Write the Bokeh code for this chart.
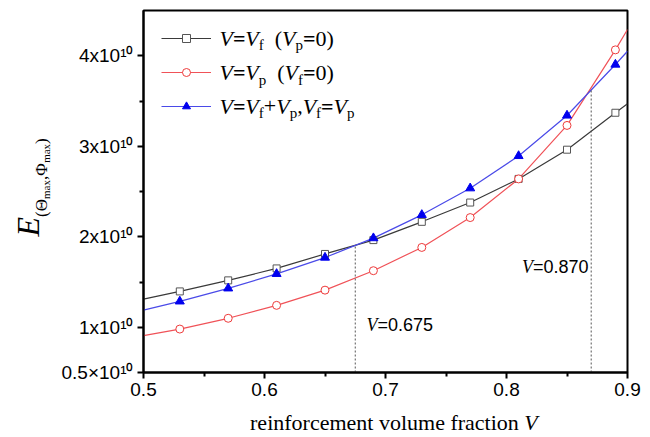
import math
from bokeh.plotting import figure
from bokeh.layouts import row, column
from bokeh.models import FixedTicker, Label, Legend, LegendItem, Range1d
from bokeh.embed import file_html
from bokeh.resources import INLINE

# ---------------- data (E in units of 1e10) ----------------
V_MARK = [0.53, 0.57, 0.61, 0.65, 0.69, 0.73, 0.77, 0.81, 0.85, 0.89]
E_VF = [1.396, 1.518, 1.65, 1.81, 1.963, 2.165, 2.378, 2.639, 2.962, 3.37]
E_VP = [0.98, 1.099, 1.242, 1.41, 1.625, 1.882, 2.212, 2.639, 3.23, 4.065]
E_VFP = [1.286, 1.43, 1.59, 1.77, 1.985, 2.242, 2.536, 2.893, 3.34, 3.903]
V_START, V_STOP = 0.5, 0.9
E_VF_END = [1.31, 3.47]
E_VP_END = [0.908, 4.29]
E_VFP_END = [1.19, 4.05]
V_CROSS = [0.675, 0.870]
E_CROSS = [1.905, 3.63]
CROSS_LABELS = ["=0.675", "=0.870"]
X_TICKS = [0.5, 0.6, 0.7, 0.8, 0.9]
X_MINOR = [0.55, 0.65, 0.75, 0.85]
Y_TICKS = [0.5, 1, 2, 3, 4]
Y_MINOR = [1.5, 2.5, 3.5]
Y_TICK_LABELS = ["0.5\u00d710\u00b9\u2070", "1x10\u00b9\u2070", "2x10\u00b9\u2070",
                 "3x10\u00b9\u2070", "4x10\u00b9\u2070"]
X_LABEL = "reinforcement volume fraction "

SERIF = "Liberation Serif"
SANS = "Liberation Sans"
BASE_FIX = 0.28   # observed downward offset of bokeh's alphabetic baseline (em)

# page-pixel geometry
WIDTH, HEIGHT = 646, 436
LEFT_W = 55            # strip holding the y title
MAIN_H = 408           # main figure height (x tick labels inside)
FL, FR, FT, FB = 143, 627, 10, 372
X0, X1, Y0, Y1 = 0.5, 0.9, 0.5, 4.5


def dx(px):
    return X0 + (px - FL) / (FR - FL) * (X1 - X0)


def dy(py):
    return Y0 + (FB - py) / (FB - FT) * (Y1 - Y0)


def bare(w, h, xr, yr):
    f = figure(width=w, height=h, x_range=xr, y_range=yr, x_axis_type=None, y_axis_type=None,
               output_backend="svg", toolbar_location=None, min_border=0)
    f.outline_line_color = None
    f.background_fill_color = "white"
    f.border_fill_color = "white"
    f.xgrid.visible = False
    f.ygrid.visible = False
    return f


pm = figure(width=WIDTH - LEFT_W, height=MAIN_H, x_range=Range1d(X0, X1), y_range=Range1d(Y0, Y1),
            output_backend="svg", toolbar_location=None,
            min_border_left=FL - LEFT_W, min_border_right=WIDTH - FR,
            min_border_top=FT, min_border_bottom=MAIN_H - FB)
pm.background_fill_color = "white"
pm.border_fill_color = "white"
pm.outline_line_color = "black"
pm.outline_line_width = 2
pm.xgrid.visible = False
pm.ygrid.visible = False

pm.xaxis.ticker = FixedTicker(ticks=X_TICKS, minor_ticks=X_MINOR)
pm.yaxis.ticker = FixedTicker(ticks=Y_TICKS, minor_ticks=Y_MINOR)
pm.yaxis.major_label_overrides = {float(t): s for t, s in zip(Y_TICKS, Y_TICK_LABELS)}
pm.xaxis.major_label_overrides = {t: ("%.1f" % t) for t in X_TICKS}
for ax in (pm.xaxis, pm.yaxis):
    ax.axis_line_width = 2
    ax.major_tick_line_width = 2
    ax.minor_tick_line_width = 2
    ax.major_tick_in = 0
    ax.major_tick_out = 6
    ax.minor_tick_in = 0
    ax.minor_tick_out = 4
    ax.major_label_text_font = SANS
    ax.major_label_text_font_size = "19px"
    ax.major_label_text_color = "black"
    ax.major_label_standoff = 4

# ---------------- series ----------------
def full(ys, ends):
    return [V_START] + V_MARK + [V_STOP], [ends[0]] + ys + [ends[1]]

xb, yb = full(E_VF, E_VF_END)
xr, yr = full(E_VP, E_VP_END)
xu, yu = full(E_VFP, E_VFP_END)

lb = pm.line(xb, yb, line_color="#3a3a3a", line_width=1.2)
lr = pm.line(xr, yr, line_color="#f05258", line_width=1.2)
lu = pm.line(xu, yu, line_color="#4a4ae8", line_width=1.2)
sb = pm.scatter(V_MARK, E_VF, marker="square", size=7, fill_color="white",
                line_color="#555555", line_width=1)
sr = pm.scatter(V_MARK, E_VP, marker="circle", size=8, fill_color="white",
                line_color="#ee3b3b", line_width=1)
su = pm.scatter(V_MARK, E_VFP, marker="triangle", size=9, fill_color="#0000ee",
                line_color="#0000ee", line_width=1)

pm.segment(x0=V_CROSS, y0=[Y0] * len(V_CROSS), x1=V_CROSS, y1=E_CROSS,
           line_color="#555555", line_dash="2 2", line_width=1)

legend = Legend(items=[LegendItem(label=" ", renderers=[lb, sb]),
                       LegendItem(label=" ", renderers=[lr, sr]),
                       LegendItem(label=" ", renderers=[lu, su])],
                location="top_left", margin=9, padding=9, spacing=14,
                glyph_width=50, glyph_height=20, label_height=20,
                label_text_font_size="8px", label_standoff=0,
                background_fill_alpha=0, border_line_alpha=0)
pm.add_layout(legend)

# ---------------- rich text helpers ----------------
W = {'V': 0.611, 'E': 0.611, '=': 0.564, '(': 0.333, ')': 0.333, '0': 0.5, '+': 0.564,
     ',': 0.25, ' ': 0.25, 'f': 0.333, 'p': 0.5, 'm': 0.778, 'a': 0.444, 'x': 0.5,
     '\u0398': 0.722, '\u03a6': 0.763}


def width(txt, size):
    return sum(W.get(c, 0.5) for c in txt) * size


def text(fig, x, y, txt, size, style="normal", font=SERIF, align="left", angle=0.0):
    fig.add_layout(Label(x=x, y=y, text=txt, text_font=font, text_font_size="%dpx" % size,
                         text_font_style=style, text_baseline="alphabetic",
                         text_align=align, text_color="black", angle=angle))


def runs(fig, pieces, start, base, mapx, mapy, vertical=False):
    pos = start
    for txt, size, style, shift in pieces:
        if txt.strip():
            b = base + shift - BASE_FIX * size
            if vertical:
                text(fig, mapx(b), mapy(pos), txt, size, style, angle=math.pi / 2)
            else:
                text(fig, mapx(pos), mapy(b), txt, size, style)
        pos = pos - width(txt, size) if vertical else pos + width(txt, size)


M, S, SH = 22, 15, 5
I, N, B = "italic", "normal", "bold"
rows = [
    [("V", M, I, 0), ("=", M, B, 0), ("V", M, I, 0), ("f", S, N, SH), ("  ", M, N, 0),
     ("(", M, N, 0), ("V", M, I, 0), ("p", S, N, SH), ("=", M, B, 0), ("0)", M, N, 0)],
    [("V", M, I, 0), ("=", M, B, 0), ("V", M, I, 0), ("p", S, N, SH), ("  ", M, N, 0),
     ("(", M, N, 0), ("V", M, I, 0), ("f", S, N, SH), ("=", M, B, 0), ("0)", M, N, 0)],
    [("V", M, I, 0), ("=", M, B, 0), ("V", M, I, 0), ("f", S, N, SH), ("+", M, N, 0),
     ("V", M, I, 0), ("p", S, N, SH), (",", M, N, 0), ("V", M, I, 0), ("f", S, N, SH),
     ("=", M, B, 0), ("V", M, I, 0), ("p", S, N, SH)],
]
for r, base in zip(rows, [44, 78.5, 112]):
    runs(pm, r, 219, base, dx, dy)

# crossing annotations
for (lx, ly), txt in zip([(366, 329.5), (521.5, 271.5)], CROSS_LABELS):
    runs(pm, [("V", 18, I, 0)], lx, ly, dx, dy)
    text(pm, dx(lx + 11), dy(ly - BASE_FIX * 18), txt, 18, font=SANS)

# ---------------- y title strip (page-pixel coordinates) ----------------
pl = bare(LEFT_W, HEIGHT, Range1d(0, LEFT_W), Range1d(HEIGHT, 0))
ident = lambda v: v
runs(pl, [("E", 32, I, 0), ("(", 17, N, 10), ("\u0398", 17, N, 10), ("max", 11, N, 13),
          (",", 17, N, 10), ("\u03a6", 17, N, 10), ("max", 11, N, 13), (")", 17, N, 10)],
     236, 36, ident, ident, vertical=True)

# ---------------- x title strip ----------------
pb = bare(WIDTH - LEFT_W, HEIGHT - MAIN_H, Range1d(LEFT_W, WIDTH), Range1d(HEIGHT, MAIN_H))
xb_base = 428 - BASE_FIX * 22
text(pb, 520, xb_base, X_LABEL, 22, align="right")
text(pb, 520, xb_base, "V", 22, style="italic")

layout = row(pl, column(pm, pb))
open("out.html", "w").write(file_html(layout, INLINE))
